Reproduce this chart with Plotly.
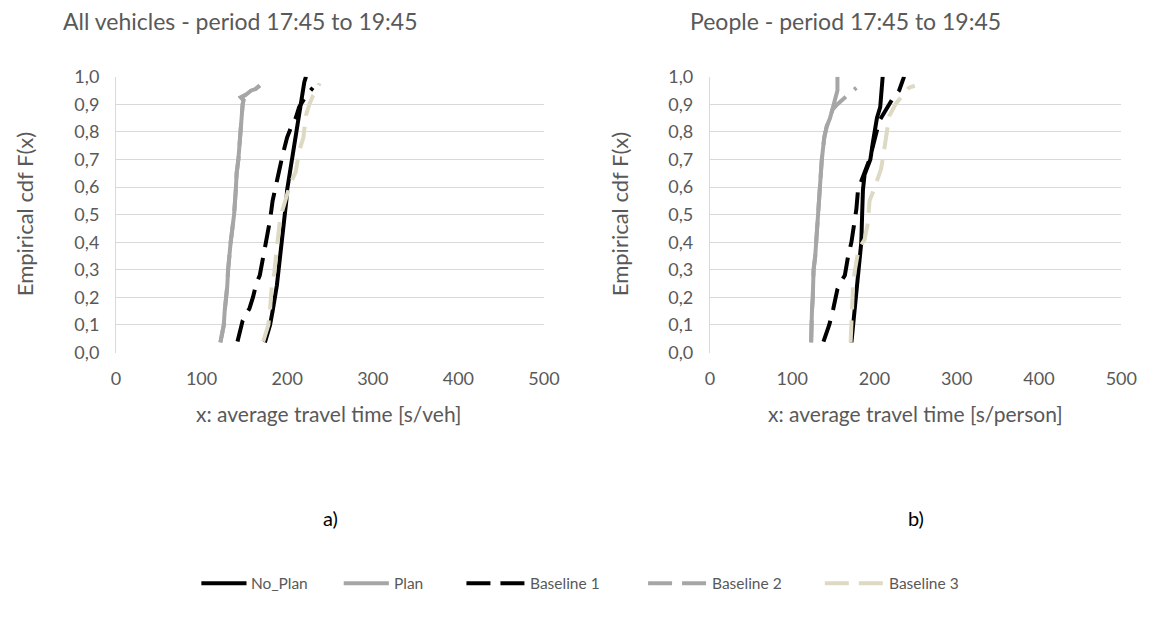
import plotly.graph_objects as go

W, H = 1153, 626

SERIES = ["No_Plan", "Plan", "Baseline 1", "Baseline 2", "Baseline 3"]

# ---------------- Panel a) All vehicles ----------------
a_noplan_x = [174, 177, 180, 183, 186, 188, 190, 192, 194, 196, 197, 199, 200, 203, 206, 208, 210, 213, 215, 218, 220, 222]
a_noplan_f = [0.037, 0.07, 0.10, 0.15, 0.205, 0.244, 0.30, 0.35, 0.40, 0.45, 0.50, 0.55, 0.59, 0.65, 0.70, 0.75, 0.80, 0.85, 0.90, 0.95, 0.98, 1.0]

a_plan_x = [122, 124, 126, 127, 129, 130, 131, 132, 134, 136, 138, 140, 141, 143, 145, 147, 148, 149, 146, 152, 158, 163, 168]
a_plan_f = [0.037, 0.07, 0.10, 0.15, 0.20, 0.24, 0.30, 0.35, 0.40, 0.45, 0.50, 0.59, 0.65, 0.70, 0.80, 0.86, 0.90, 0.915, 0.925, 0.935, 0.95, 0.955, 0.968]

a_base1_x = [142, 148, 152, 156, 160, 164, 168, 173, 176, 180, 183, 186, 190, 195, 200, 205, 210, 214, 222, 230]
a_base1_f = [0.04, 0.116, 0.14, 0.16, 0.20, 0.25, 0.28, 0.36, 0.42, 0.48, 0.55, 0.60, 0.65, 0.72, 0.78, 0.82, 0.85, 0.89, 0.93, 0.96]

a_base2_x = [122, 124, 126, 127, 129, 130, 131, 132, 134, 136, 138, 140, 141, 143, 145, 147, 148, 149, 146, 152, 158, 163, 168]
a_base2_f = [0.037, 0.07, 0.10, 0.15, 0.20, 0.24, 0.30, 0.35, 0.40, 0.45, 0.50, 0.59, 0.65, 0.70, 0.80, 0.86, 0.90, 0.915, 0.925, 0.935, 0.95, 0.955, 0.968]

a_base3_x = [172, 175, 178, 180, 182, 185, 187, 189, 192, 195, 198, 201, 204, 210, 214, 219, 222, 226, 230, 234, 238]
a_base3_f = [0.04, 0.07, 0.10, 0.155, 0.24, 0.29, 0.37, 0.41, 0.49, 0.52, 0.55, 0.59, 0.615, 0.655, 0.73, 0.78, 0.86, 0.90, 0.93, 0.947, 0.976]

# ---------------- Panel b) People ----------------
b_noplan_x = [172, 174, 176, 178, 180, 182, 184, 185, 186, 188, 192, 195, 198, 203, 207, 209, 210]
b_noplan_f = [0.037, 0.10, 0.155, 0.244, 0.30, 0.333, 0.40, 0.50, 0.59, 0.645, 0.68, 0.70, 0.76, 0.85, 0.89, 0.95, 1.0]

b_plan_x = [123, 123, 124, 125, 126, 128, 129, 131, 133, 136, 139, 142, 146, 149, 153, 155, 155]
b_plan_f = [0.037, 0.10, 0.15, 0.20, 0.30, 0.35, 0.40, 0.50, 0.60, 0.70, 0.78, 0.82, 0.85, 0.88, 0.92, 0.95, 1.0]

b_base1_x = [138, 145, 150, 155, 160, 164, 168, 172, 176, 178, 180, 184, 188, 194, 200, 206, 214, 222, 230, 236]
b_base1_f = [0.04, 0.10, 0.16, 0.23, 0.26, 0.28, 0.35, 0.40, 0.48, 0.52, 0.59, 0.62, 0.65, 0.70, 0.77, 0.84, 0.88, 0.92, 0.95, 1.0]

b_base2_x = [123, 123, 124, 125, 126, 128, 129, 131, 133, 136, 139, 142, 146, 149, 155, 178]
b_base2_f = [0.037, 0.10, 0.15, 0.20, 0.30, 0.35, 0.40, 0.50, 0.60, 0.70, 0.78, 0.82, 0.85, 0.88, 0.90, 0.96]

b_base3_x = [171, 172, 172, 174, 176, 180, 184, 188, 192, 194, 198, 202, 208, 212, 214, 218, 226, 234, 242, 249]
b_base3_f = [0.037, 0.10, 0.165, 0.244, 0.294, 0.363, 0.39, 0.41, 0.47, 0.55, 0.58, 0.615, 0.665, 0.739, 0.778, 0.857, 0.902, 0.93, 0.96, 0.967]

X_TICKS = [0, 100, 200, 300, 400, 500]
Y_TICKS = [0.0, 0.1, 0.2, 0.3, 0.4, 0.5, 0.6, 0.7, 0.8, 0.9, 1.0]

TITLE_A = "All vehicles - period 17:45 to 19:45"
TITLE_B = "People - period 17:45 to 19:45"
XTITLE_A = "x: average travel time [s/veh]"
XTITLE_B = "x: average travel time [s/person]"
YTITLE = "Empirical cdf F(x)"

# ---------------- styles ----------------
COLORS = {"No_Plan": "#000000", "Plan": "#a6a6a6", "Baseline 1": "#000000",
          "Baseline 2": "#a6a6a6", "Baseline 3": "#ddd9c3"}
DASH = {"No_Plan": "solid", "Plan": "solid", "Baseline 1": "22px,11px",
        "Baseline 2": "22px,11px", "Baseline 3": "22px,11px"}
LEG_DASH = {"No_Plan": "solid", "Plan": "solid", "Baseline 1": "24px,10px",
            "Baseline 2": "24px,10px", "Baseline 3": "24px,10px"}
FONT = "Lato, Carlito, Calibri, sans-serif"
TXT = "#595959"
GRID = "#d9d9d9"

panel_a = {"No_Plan": (a_noplan_x, a_noplan_f), "Plan": (a_plan_x, a_plan_f),
           "Baseline 1": (a_base1_x, a_base1_f), "Baseline 2": (a_base2_x, a_base2_f),
           "Baseline 3": (a_base3_x, a_base3_f)}
panel_b = {"No_Plan": (b_noplan_x, b_noplan_f), "Plan": (b_plan_x, b_plan_f),
           "Baseline 1": (b_base1_x, b_base1_f), "Baseline 2": (b_base2_x, b_base2_f),
           "Baseline 3": (b_base3_x, b_base3_f)}

fig = go.Figure()
for panel, (xa, ya) in ((panel_a, ("x", "y")), (panel_b, ("x2", "y2"))):
    for name in SERIES:
        xs, fs = panel[name]
        fig.add_trace(go.Scatter(
            x=xs, y=fs, mode="lines", name=name, xaxis=xa, yaxis=ya,
            showlegend=False, legendgroup=name,
            line=dict(color=COLORS[name], width=4, dash=DASH[name]),
            hoverinfo="skip"))

def px_x(p):
    return p / W

def px_y(p):
    return 1 - p / H

top, bot = 67, 353
xa_dom = [px_x(113), px_x(549)]
xb_dom = [px_x(718), px_x(1137)]
ydom = [px_y(bot), px_y(top)]

xcommon = dict(range=[0, 500], tickvals=X_TICKS, showgrid=False, zeroline=False,
               showline=False, ticks="", tickfont=dict(size=18, color=TXT, family=FONT),
               ticklabelstandoff=13, fixedrange=True)
ycommon = dict(range=[0, 1], tickvals=Y_TICKS, tickformat=".1f", showgrid=True,
               gridcolor=GRID, gridwidth=1, zeroline=False, showline=True,
               linecolor=GRID, linewidth=1, ticks="",
               tickfont=dict(size=18, color=TXT, family=FONT), ticklabelstandoff=12,
               fixedrange=True)

fig.update_layout(
    width=W, height=H, autosize=False,
    margin=dict(l=0, r=0, t=0, b=0),
    paper_bgcolor="white", plot_bgcolor="white",
    separators=",.",
    font=dict(family=FONT, color=TXT),
    xaxis=dict(domain=xa_dom, anchor="y", **xcommon),
    yaxis=dict(domain=ydom, anchor="x", **ycommon),
    xaxis2=dict(domain=xb_dom, anchor="y2", **xcommon),
    yaxis2=dict(domain=ydom, anchor="x2", **ycommon),
    showlegend=False,
)

ann = [
    (TITLE_A, 240, 9, 23, TXT, 0),
    (TITLE_B, 856, 9, 23, TXT, 0),
    (XTITLE_A, 330, 416, 21, TXT, 0),
    (XTITLE_B, 927, 416, 21, TXT, 0),
    (YTITLE, 20, 210, 22, TXT, -90),
    (YTITLE, 626, 210, 22, TXT, -90),
    ("a)", 332, 524, 20, "#000000", 0),
    ("b)", 928, 524, 20, "#000000", 0),
]
for text, x, y, size, color, ang in ann:
    fig.add_annotation(text=text, x=px_x(x), y=px_y(y), xref="paper", yref="paper",
                       xanchor="center", yanchor="middle", showarrow=False,
                       textangle=ang, font=dict(size=size, color=color, family=FONT))

# legend (drawn with shapes + text so sample lengths follow the reference)
LEG_Y = 592
LEG_ITEMS = [("No_Plan", 200, 246), ("Plan", 345, 391), ("Baseline 1", 470, 530),
             ("Baseline 2", 655, 715), ("Baseline 3", 835, 895)]
for name, x0, x1 in LEG_ITEMS:
    fig.add_shape(type="line", xref="paper", yref="paper",
                  x0=px_x(x0), x1=px_x(x1), y0=px_y(LEG_Y), y1=px_y(LEG_Y),
                  line=dict(color=COLORS[name], width=4, dash=LEG_DASH[name]))
    fig.add_annotation(text=name, x=px_x(x1 + 3), y=px_y(LEG_Y), xref="paper", yref="paper",
                       xanchor="left", yanchor="middle", showarrow=False,
                       font=dict(size=15.5, color=TXT, family=FONT))

fig.write_html("out.html", include_plotlyjs=True,
               config={"displayModeBar": False, "staticPlot": True},
               post_script="document.body.style.margin='0';")
